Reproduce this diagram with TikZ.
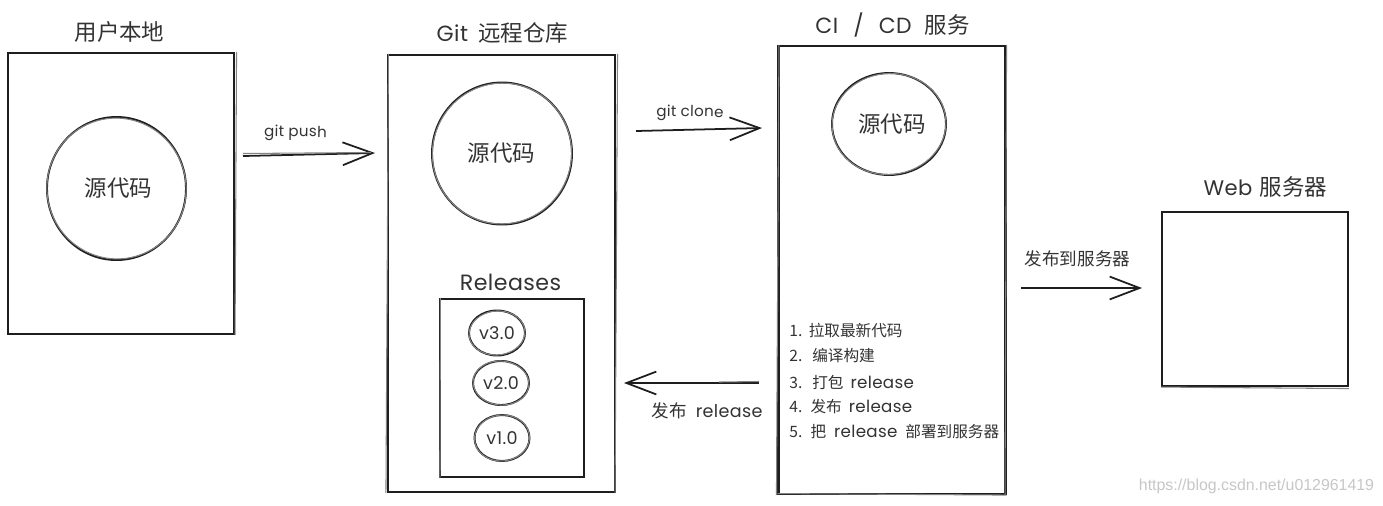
\documentclass[tikz,border=0pt]{standalone}
\usepackage{fontspec}
\setmainfont{Noto Sans CJK SC}
\newfontfamily\wmfont{Liberation Sans}
\newfontfamily\lat[LetterSpace=2]{Poppins}
\usetikzlibrary{arrows.meta,shapes.geometric,calc}
\newcommand{\pxu}{0.02cm}
\definecolor{ink}{HTML}{1E1E1E}
\definecolor{txt}{HTML}{333333}
\tikzset{
  sketchbox/.style n args={2}{draw=ink,line width=1.2pt,fill=none,inner sep=0pt,minimum width=#1*\pxu,minimum height=#2*\pxu},
  sketchcirc/.style n args={2}{ellipse,draw=ink,line width=1.1pt,inner sep=0pt,minimum width=#1*\pxu,minimum height=#2*\pxu},
  trace/.style={draw=ink!55,line width=0.6pt},
  flow/.style={draw=ink,line width=1pt,-{Straight Barb[length=17pt,width=13pt,line width=1pt]}},
  title/.style={text=txt,font=\fontsize{12.8}{14}\selectfont,inner sep=0pt},
  body/.style={text=txt,font=\fontsize{12.8}{14}\selectfont,inner sep=0pt},
  label/.style={text=txt,font=\fontsize{10}{12}\selectfont,inner sep=0pt},
  small/.style={text=txt,font=\lat\fontsize{8.6}{10}\selectfont,inner sep=0pt},
  listline/.style={text=txt,font=\fontsize{8.9}{10}\selectfont,inner sep=0pt,anchor=west},
  ver/.style={text=txt,font=\lat\fontsize{10}{10}\selectfont,inner sep=0pt},
}
\begin{document}
\begin{tikzpicture}[x=0.02cm,y=-0.02cm]
\useasboundingbox (0,0) rectangle (1383,505);
\fill[white] (0,0) rectangle (1383,505);
% boxes
\node[sketchbox={226}{281}] (local) at (121,193.5) {};
\node[sketchbox={227}{437}] (remote) at (501.5,273.5) {};
\node[sketchbox={227}{448}] (ci) at (892,270) {};
\node[sketchbox={186}{174}] (web) at (1255,299) {};
\node[sketchbox={144}{178}] (rel) at (512,388) {};
% circles
\node[sketchcirc={139}{143}] (src1) at (116.5,188.5) {};
\node[sketchcirc={140}{142}] (src2) at (502,153.5) {};
\node[sketchcirc={114}{102}] (src3) at (889,124) {};
\node[sketchcirc={56}{45}] (v3) at (497,333) {};
\node[sketchcirc={56}{44}] (v2) at (501,383) {};
\node[sketchcirc={55}{46}] (v1) at (502,438) {};
% second pencil strokes
\draw[trace] ($(local.north east)+(1.5,0)$) -- ($(local.south east)+(0,0)$);
\draw[trace] ($(remote.north west)+(1.5,0)$) -- ($(remote.south west)+(-1,0)$);
\draw[trace] ($(remote.north east)+(1.5,0)$) -- ($(remote.south east)+(-1,0)$);
\draw[trace] ($(ci.north west)+(1.5,0)$) -- ($(ci.south west)+(-1,0)$);
\draw[trace] ($(ci.north east)+(0,0)$) -- ($(ci.south east)+(-1.5,0)$);
\draw[trace] ($(ci.south west)+(0,-1.5)$) -- ($(ci.south east)+(0,0)$);
\draw[trace] ($(web.south west)+(0,0)$) -- ($(web.south east)+(0,1.5)$);
\draw[trace] ($(rel.north west)+(1.5,0)$) -- ($(rel.south west)+(1,0)$);
\draw[trace] (src1) ellipse [x radius=69.5,y radius=70.5,rotate=20];
\draw[trace] (src2) ellipse [x radius=69.5,y radius=70.5,rotate=-20];
\draw[trace] (src3) ellipse [x radius=57,y radius=50.5,rotate=6];
\draw[trace] (v3) ellipse [x radius=28,y radius=22,rotate=5];
\draw[trace] (v2) ellipse [x radius=28,y radius=22,rotate=-5];
\draw[trace] (v1) ellipse [x radius=27.5,y radius=23,rotate=5];
% titles
\node[title] (t1) at (119.5,32) {用户本地};
\node[title] (t2) at (502.5,33) {{\lat\fontsize{12.5}{14}\selectfont Git}\hspace{3pt} 远程仓库};
\node[title] (t3) at (892.5,25) {{\lat\fontsize{12.5}{14}\selectfont CI\hspace{5pt} /\hspace{5pt} CD}\hspace{4.5pt} 服务};
\node[title] (t4) at (1265.5,187) {{\lat\fontsize{12}{14}\selectfont Web}\hspace{1.5pt} 服务器};
\node[title,font=\lat\fontsize{12.6}{14}\selectfont] (t5) at (510.5,282) {Releases};
% circle labels
\node[body] (c1) at ($(src1)+(2,0)$) {源代码};
\node[body] (c2) at ($(src2)+(-0.5,0)$) {源代码};
\node[body] (c3) at ($(src3)+(3,0)$) {源代码};
\node[ver] at (v3) {v3.0};
\node[ver] at (v2) {v2.0};
\node[ver] at (v1) {v1.0};
% flows
\coordinate (pushA) at (243,156);
\coordinate (pushB) at (375,153);
\coordinate (cloneA) at (636,131);
\coordinate (cloneB) at (762,128);
\coordinate (relA) at (759,383);
\coordinate (relB) at (624,383);
\coordinate (depA) at (1021,288);
\coordinate (depB) at (1142,288);
\draw[flow] (pushA) -- (pushB);
\draw[trace] ($(pushA)+(0,-2.5)$) -- ($(pushB)+(-4,-0.5)$);
\draw[flow] (cloneA) -- (cloneB);
\draw[flow] (relA) -- (relB);
\draw[trace] ($(relA)+(0,-1.5)$) -- ($(relA)+(-40,-1)$);
\draw[flow,line width=0.8pt] (depA) -- (depB);
% flow labels
\node[small,rotate=-1] (lpush) at (295.5,133) {git push};
\node[small,rotate=-1] (lclone) at (690,113) {git clone};
\node[label] (lrel) at (707,411) {发布\hspace{3pt} {\lat\fontsize{10}{12}\selectfont release}};
\node[label] (ldep) at (1077.5,259) {发布到服务器};
% list
\newcommand{\relw}{{\lat\fontsize{9.5}{10}\selectfont release}}
\node[listline] (s1) at (789,331) {1.\hspace{1pt} 拉取最新代码};
\node[listline] (s2) at (789,356) {2.\hspace{3pt} 编译构建};
\node[listline] (s3) at (789,382) {3.\hspace{3pt} 打包\hspace{2pt} \relw};
\node[listline] (s4) at (789,407) {4.\hspace{2pt} 发布\hspace{2pt} \relw};
\node[listline] (s5) at (789,432) {5.\hspace{2pt} 把\hspace{2.5pt} \relw\hspace{2.5pt} 部署到服务器};
% watermark
\node[text=black!22,font=\wmfont\fontsize{9.05}{12}\selectfont,inner sep=0pt] (wm) at (1256.5,486) {https://blog.csdn.net/u012961419};
\end{tikzpicture}
\end{document}
